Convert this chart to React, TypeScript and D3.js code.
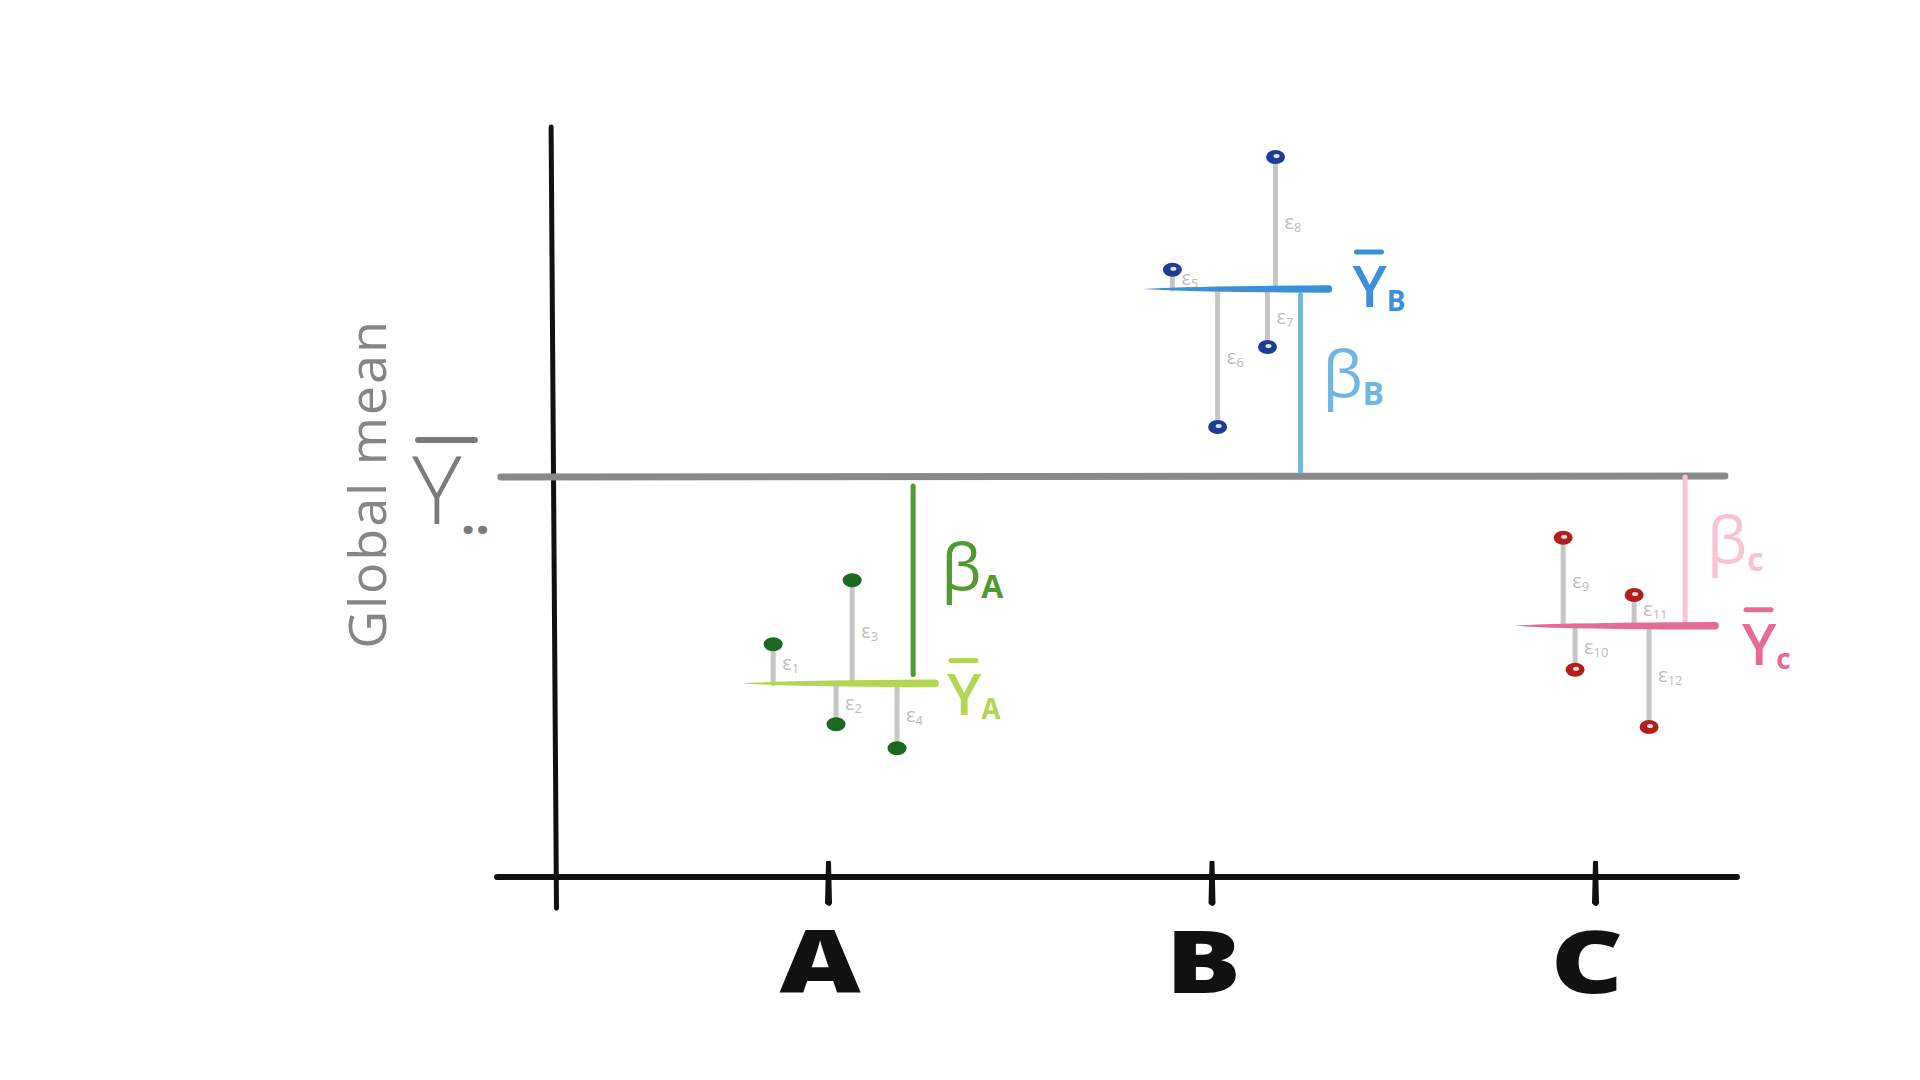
import React from "react";
import * as d3 from "d3";

// ---- data ----
const categories = ["A", "B", "C"];
const globalMean = 0;
const groupMeans = [-2.58, 2.35, -1.86];
const obsGroup = [0, 0, 0, 0, 1, 1, 1, 1, 2, 2, 2, 2];
const obsOffset = [-0.143, 0.021, 0.063, 0.18, -0.102, 0.016, 0.146, 0.167, -0.083, -0.052, 0.102, 0.141];
const obsValues = [-2.09, -3.09, -1.29, -3.39, 2.59, 0.625, 1.625, 4.0, -0.76, -2.41, -1.475, -3.125];
const residualIndex = ["1", "2", "3", "4", "5", "6", "7", "8", "9", "10", "11", "12"];
const meanLeft = [-0.224, -0.177, -0.209];
const meanRight = [0.279, 0.305, 0.313];
const betaOffset = [0.222, 0.232, 0.235];
const meanSub = ["A", "B", "c"];
const betaSub = ["A", "B", "c"];

// ---- styles ----
const meanColor = ["#b4d657", "#3d8fd7", "#e56b94"];
const betaColor = ["#4f9b30", "#74b4e1", "#f9c3cf"];
const pointColor = ["#1c6a22", "#1f3c94", "#b21d1d"];
const pointHighlight = [false, true, true];
const betaGap = [9, 6, 0];
const meanLabelDx = [12, 24, 27];
const meanLabelDy = [32, 18, 39];
const betaLabelDx = [28, 22, 22];
const betaLabelDy = [10, 14, 12];

const W = 1920;
const H = 1080;

const x = d3.scaleLinear().domain([0, 2]).range([828, 1595]);
const y = d3.scaleLinear().domain([-5, 5]).range([877, 77]);

export default function App() {
  const font = "'Open Sans', 'DejaVu Sans', sans-serif";
  const gY = y(globalMean);
  return (
    <svg
      width={W}
      height={H}
      viewBox={`0 0 ${W} ${H}`}
      style={{ position: "fixed", left: 0, top: 0, background: "#fff", display: "block" }}
    >
      <rect width={W} height={H} fill="#fff" />

      {/* y axis */}
      <line x1={x(-0.722)} y1={y(4.375)} x2={x(-0.708)} y2={y(-5.39)} stroke="#111" strokeWidth={5} strokeLinecap="round" />
      {/* x axis */}
      <line x1={x(-0.863)} y1={y(-5)} x2={x(2.37)} y2={y(-5)} stroke="#111" strokeWidth={6} strokeLinecap="round" />
      {categories.map((c, i) => (
        <g key={c}>
          <path
            d={`M${x(i) - 1},${y(-5) - 15} L${x(i) + 2},${y(-5) - 15} L${x(i) + 3},${y(-5) + 26} Q${x(i) + 1},${y(-5) + 30} ${x(i) - 2},${y(-5) + 26} Z`}
            fill="#111"
            stroke="#111"
            strokeWidth={2}
            strokeLinejoin="round"
          />
          <text
            transform={`translate(${x(i) - 8},${y(-5) + 116}) scale(1.3,1)`}
            textAnchor="middle"
            fontFamily={font}
            fontWeight={800}
            fontSize={86}
            fill="#111"
          >
            {c}
          </text>
        </g>
      ))}

      {/* global mean label */}
      <text
        transform={`translate(386,484) rotate(-90)`}
        textAnchor="middle"
        fontFamily={font}
        fontWeight={500}
        fontSize={52}
        fill="#868686"
        letterSpacing={2}
      >
        Global mean
      </text>
      <line x1={418} y1={440} x2={475} y2={440} stroke="#7a7a7a" strokeWidth={6} strokeLinecap="round" />
      <text x={412} y={524} fontFamily={font} fontWeight={300} fontSize={94} fill="#7a7a7a">
        Y<tspan fontWeight={800} fontSize={44} dy={10} letterSpacing={2}>..</tspan>
      </text>

      {/* global mean line */}
      <line x1={x(-0.853)} y1={gY} x2={x(2.339)} y2={gY - 1} stroke="#898989" strokeWidth={7} strokeLinecap="round" />

      {/* residual sticks */}
      {obsValues.map((v, k) => {
        const g = obsGroup[k];
        const px = x(g + obsOffset[k]);
        const my = y(groupMeans[g]);
        const py = y(v);
        return (
          <line key={"s" + k} x1={px} y1={my} x2={px} y2={py} stroke="#c6c6c6" strokeWidth={5} strokeLinecap="round" />
        );
      })}

      {/* residual labels */}
      {obsValues.map((v, k) => {
        const g = obsGroup[k];
        const px = x(g + obsOffset[k]);
        const mid = (y(groupMeans[g]) + y(v)) / 2;
        return (
          <text key={"e" + k} x={px + 9} y={mid + 6} fontFamily={font} fontSize={20} fill="#bdbdbd">
            ε<tspan fontSize={13} dy={3}>{residualIndex[k]}</tspan>
          </text>
        );
      })}

      {/* beta lines */}
      {categories.map((c, i) => {
        const bx = x(i + betaOffset[i]);
        const up = groupMeans[i] > globalMean;
        const y1 = gY + (up ? -betaGap[i] : betaGap[i]);
        const y2 = y(groupMeans[i]) + (up ? betaGap[i] : -betaGap[i]);
        return (
          <line key={"b" + c} x1={bx} y1={y1} x2={bx} y2={y2} stroke={betaColor[i]} strokeWidth={5} strokeLinecap="round" />
        );
      })}

      {/* group mean lines */}
      {categories.map((c, i) => {
        const l = x(i + meanLeft[i]);
        const r = x(i + meanRight[i]);
        const my = y(groupMeans[i]);
        return (
          <path
            key={"m" + c}
            d={`M${l},${my} Q${l + 40},${my - 3} ${r},${my - 3.8} A3.8,3.8 0 0 1 ${r},${my + 3.8} Q${l + 40},${my + 3} ${l},${my} Z`}
            fill={meanColor[i]}
          />
        );
      })}

      {/* observation points */}
      {obsValues.map((v, k) => {
        const g = obsGroup[k];
        const px = x(g + obsOffset[k]);
        const py = y(v);
        return (
          <g key={"p" + k}>
            <ellipse cx={px} cy={py} rx={9.5} ry={7} fill={pointColor[g]} />
            {pointHighlight[g] && <ellipse cx={px + 1} cy={py - 1} rx={3} ry={2} fill="#fff" opacity={0.85} />}
          </g>
        );
      })}

      {/* group mean labels */}
      {categories.map((c, i) => {
        const lx = x(i + meanRight[i]) + meanLabelDx[i];
        const by = y(groupMeans[i]) + meanLabelDy[i];
        return (
          <g key={"ml" + c}>
            <line x1={lx + 4} y1={by - 55} x2={lx + 29} y2={by - 55} stroke={meanColor[i]} strokeWidth={5} strokeLinecap="round" />
            <text x={lx} y={by} fontFamily={font} fontWeight={600} fontSize={58} fill={meanColor[i]}>
              Y<tspan fontSize={28} fontWeight={700} dy={4}>{meanSub[i]}</tspan>
            </text>
          </g>
        );
      })}

      {/* beta labels */}
      {categories.map((c, i) => {
        const bx = x(i + betaOffset[i]) + betaLabelDx[i];
        const mid = (gY + y(groupMeans[i])) / 2 + betaLabelDy[i];
        return (
          <text key={"bl" + c} x={bx} y={mid} fontFamily={font} fontWeight={500} fontSize={64} fill={betaColor[i]}>
            β<tspan fontSize={32} fontWeight={700} dy={8}>{betaSub[i]}</tspan>
          </text>
        );
      })}
    </svg>
  );
}
